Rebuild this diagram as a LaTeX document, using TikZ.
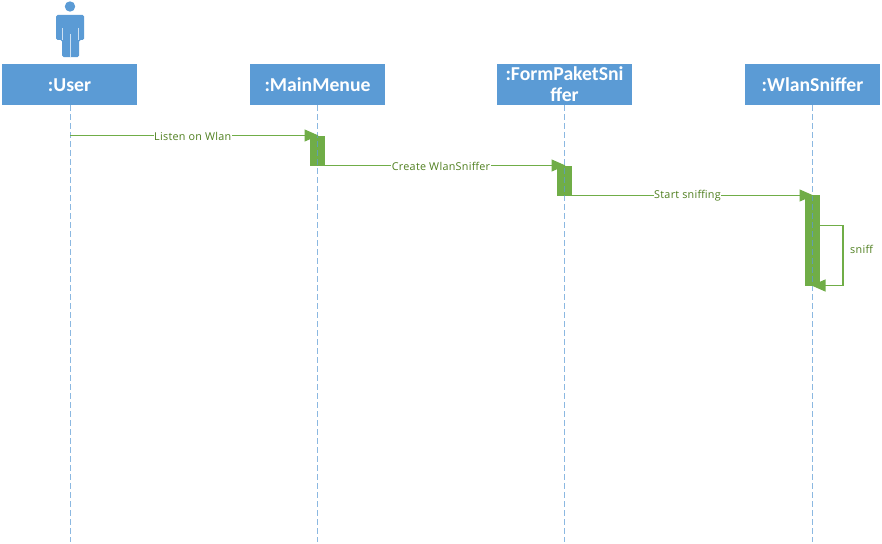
\documentclass[tikz,border=0pt]{standalone}
\usepackage{fontspec}
\setmainfont{Carlito}
\newfontfamily\msgfont[LetterSpace=2.5]{Open Sans}
\definecolor{bluefill}{HTML}{5B9BD5}
\definecolor{greenfill}{HTML}{70AD47}
\definecolor{msgtext}{HTML}{4F7F1F}
\usetikzlibrary{arrows.meta}
\tikzset{
  objbox/.style={fill=bluefill,draw=none,minimum width=135pt,minimum height=41pt,inner sep=0pt,text width=133pt,align=center,text=white,font=\bfseries\fontsize{19.7}{22}\selectfont},
  lifeline/.style={bluefill,draw opacity=0.7,line width=1pt,dash pattern=on 6pt off 3pt},
  activation/.style={fill=greenfill,draw=none,minimum width=15pt,inner sep=0pt},
  msg/.style={greenfill,line width=1.1pt,shorten >=-1pt,-{Triangle[length=14pt,width=12pt,fill=greenfill]}},
  msglabel/.style={fill=white,inner sep=0.6pt,text=msgtext,font=\msgfont\fontsize{10.8}{12}\selectfont},
}
\begin{document}
\begin{tikzpicture}[x=1pt,y=-1pt]
\useasboundingbox (0,0) rectangle (882,543);
\fill[white] (0,0) rectangle (882,543);
% actor
\fill[bluefill] (70,6.5) circle (5.2);
\fill[bluefill,rounded corners=1.5pt] (56,40) -- (56,15) -- (84,15) -- (84,40) -- (79,40) -- (79,57) -- (62,57) -- (62,40) -- cycle;
\draw[white!70!bluefill,line width=0.6pt] (70,34) -- (70,57) (62,28) -- (62,40) (78,28) -- (78,40);
% objects
\node[objbox,text depth=0pt] (user) at (69.5,84.5) {\raisebox{-0.7pt}{:User}};
\node[objbox] (menu) at (317.5,84.5) {:MainMenue};
\node[objbox] (form) at (564.5,84.5) {:FormPaketSni\\[-1pt]ffer};
\node[objbox] (wlan) at (812.5,84.5) {:WlanSniffer};
% lifeline ends
\coordinate (userend) at (70,542);
\coordinate (menuend) at (317.5,542);
\coordinate (formend) at (564.5,542);
\coordinate (wlanend) at (812.5,542);
% activations
\node[activation,minimum height=30pt] (amenu) at (317.5,150.5) {};
\node[activation,minimum height=30pt] (aform) at (564.5,180.5) {};
\node[activation,minimum height=91pt] (awlan) at (812.5,240.5) {};
% lifelines
\draw[lifeline] (user.south -| userend) -- (userend);
\draw[lifeline] (menu.south -| menuend) -- (menuend);
\draw[lifeline] (form.south -| formend) -- (formend);
\draw[lifeline] (wlan.south -| wlanend) -- (wlanend);
% messages
\coordinate (m1s) at (70,135.5);
\coordinate (m2s) at (317.5,165.5);
\coordinate (m3s) at (564.5,195.5);
\draw[msg] (m1s) -- node[msglabel,xshift=-1pt,yshift=-0.5pt] {Listen on Wlan} (m1s -| amenu);
\draw[msg] (m2s) -- node[msglabel,yshift=-0.5pt] {Create WlanSniffer} (m2s -| aform);
\draw[msg] (m3s) -- node[msglabel,xshift=-1pt,yshift=-0.5pt] {Start sniffing} (m3s -| awlan);
% self message
\coordinate (s1) at (812.5,225.5);
\coordinate (s2) at (843,225.5);
\coordinate (s3) at (843,285.5);
\draw[msg] (s1) -- (s2) -- (s3) -- (s3 -| awlan);
\node[anchor=west,inner sep=0pt,text=msgtext,font=\msgfont\fontsize{10.8}{12}\selectfont] (sniff) at (850,249.5) {sniff};
\end{tikzpicture}
\end{document}
